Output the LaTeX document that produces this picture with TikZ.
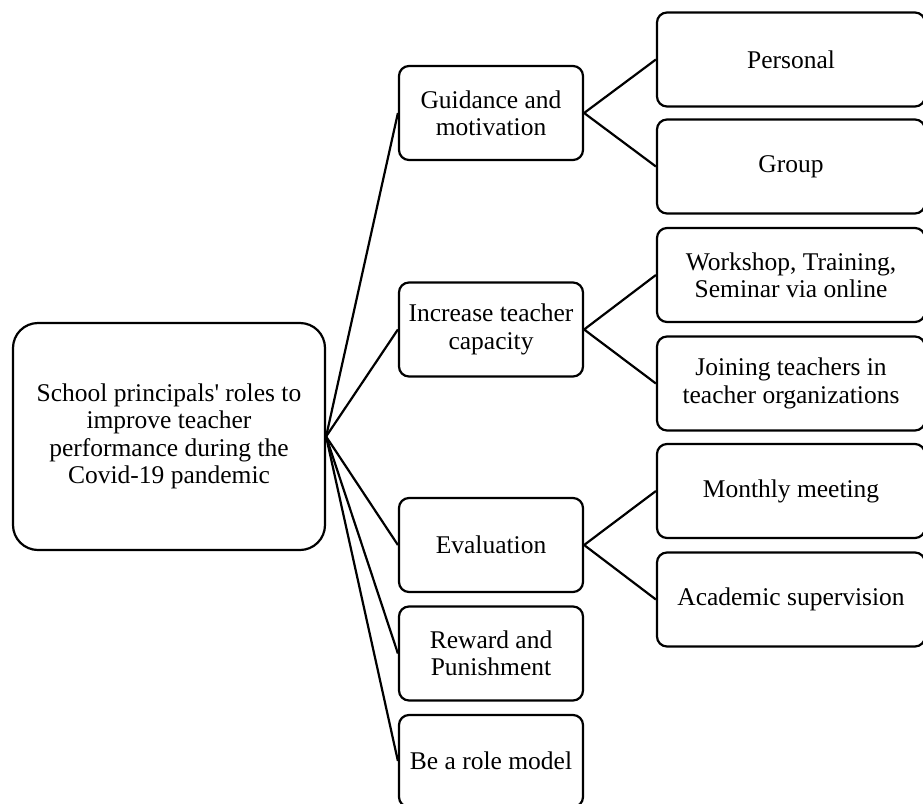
\documentclass[tikz,border=0pt]{standalone}
\usepackage{fontspec}
\setmainfont{Liberation Serif}[Ligatures=TeXOff]
\begin{document}
\begin{tikzpicture}[x=1pt,y=-1pt,
  every node/.style={font=\fontsize{25.5}{27.3}\selectfont},
  box/.style={draw, line width=2.2pt, align=center, inner sep=0pt},
  rootbox/.style={box, rounded corners=25pt, minimum width=312pt, minimum height=227pt},
  midbox/.style={box, rounded corners=10pt, minimum width=184pt, minimum height=94pt},
  leafbox/.style={box, rounded corners=10pt, minimum width=268pt, minimum height=94pt},
  link/.style={line width=2.2pt}]
\useasboundingbox (0,0) rectangle (923,803);
\clip (0,0) rectangle (923,803);

% root
\node[rootbox] (root) at (169,436.5) {School principals' roles to\\improve teacher\\performance during the\\Covid-19 pandemic};

% second level
\node[midbox] (guid) at (491,113) {Guidance and\\motivation};
\node[midbox] (incr) at (491,329.5) {Increase teacher\\capacity};
\node[midbox] (eval) at (491,545) {Evaluation};
\node[midbox] (rew)  at (491,653.5) {Reward and\\Punishment};
\node[midbox, minimum height=92pt] (role) at (491,761) {Be a role model};

% third level
\node[leafbox] (pers) at (791,59.5)  {Personal};
\node[leafbox] (grp)  at (791,166.5) {Group};
\node[leafbox] (work) at (791,275)   {Workshop, Training,\\Seminar via online};
\node[leafbox] (join) at (791,383.5) {Joining teachers in\\teacher organizations};
\node[leafbox] (mon)  at (791,491)   {Monthly meeting};
\node[leafbox] (acad) at (791,599.5) {Academic supervision};

% connectors
\foreach \m in {guid,incr,eval,rew,role}
  \draw[link] (root.east) -- (\m.west);
\draw[link] (pers.west) -- (guid.east) -- (grp.west);
\draw[link] (work.west) -- (incr.east) -- (join.west);
\draw[link] (mon.west) -- (eval.east) -- (acad.west);
\end{tikzpicture}
\end{document}
